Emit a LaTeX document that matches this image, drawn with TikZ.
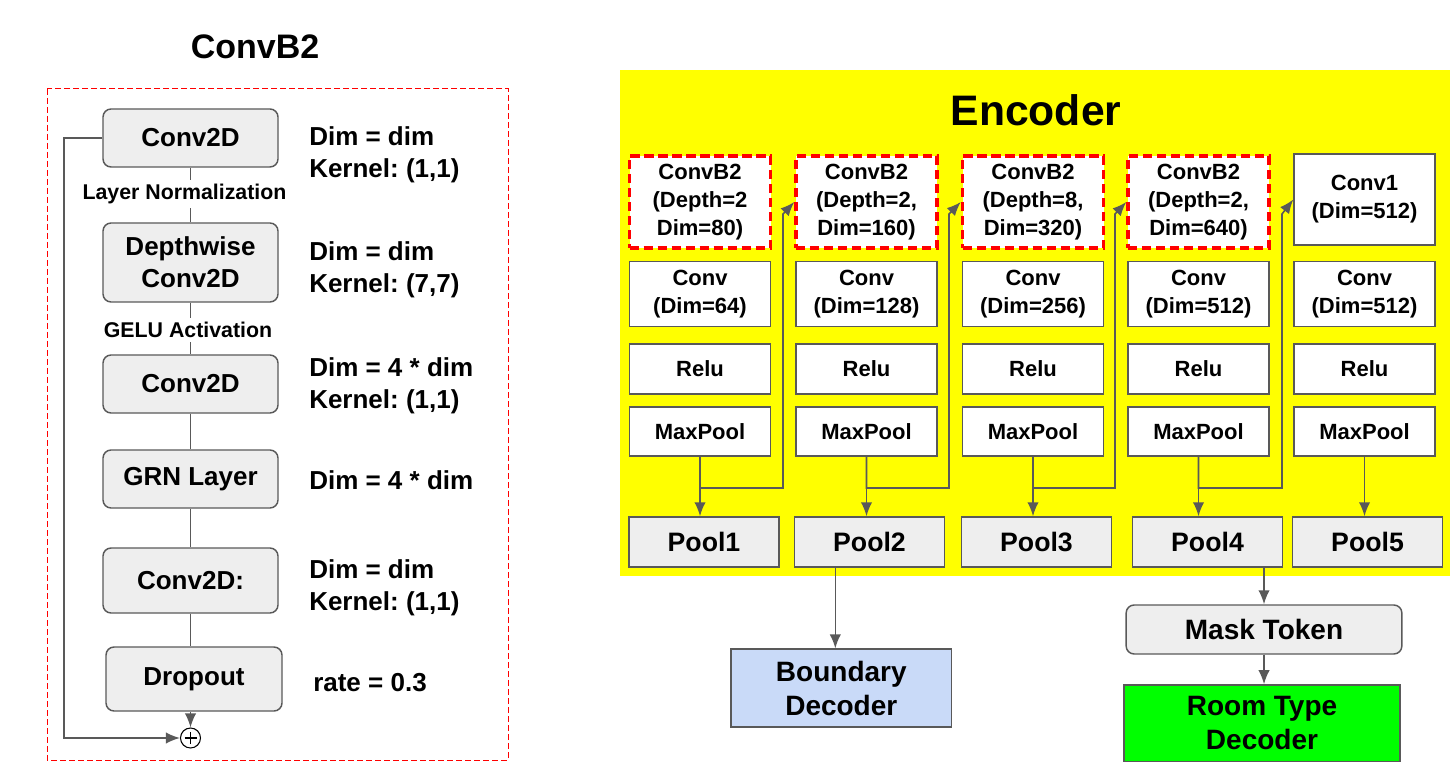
\documentclass[tikz,border=0pt]{standalone}
\usepackage{fontspec}
\setmainfont{Liberation Sans}
\usepackage{xcolor}
\usepackage{tikz}
\usetikzlibrary{arrows.meta}
\definecolor{boxgray}{HTML}{EEEEEE}
\definecolor{linegray}{HTML}{595959}
\definecolor{bdblue}{HTML}{C9DAF8}
\definecolor{rtgreen}{HTML}{00FF00}
\definecolor{encyellow}{HTML}{FFFF00}
\frenchspacing
\tikzset{>={Latex[length=10.5pt,width=8.5pt]}}
\tikzset{
  blk/.style={draw=linegray, fill=boxgray, rounded corners=6pt, line width=1.1pt,
    minimum width=131.25pt, align=center, inner sep=0pt,
    font=\fontsize{19.5}{24}\selectfont\bfseries},
  note/.style={anchor=west, align=left, inner sep=0pt,
    font=\fontsize{19.5}{24}\selectfont\bfseries},
  lbl/.style={inner sep=3pt, font=\fontsize{16}{19}\selectfont\bfseries},
  enc/.style={draw=linegray, fill=white, line width=1.1pt, minimum width=105.75pt,
    align=center, inner sep=0pt, font=\fontsize{16.5}{21}\selectfont\bfseries},
  cbox/.style={enc, draw=red, line width=2.6pt, dash pattern=on 7pt off 3.5pt},
  pool/.style={draw=linegray, fill=boxgray, line width=1.1pt, minimum width=112.5pt,
    minimum height=37.5pt, inner sep=0pt, font=\fontsize{20}{24}\selectfont\bfseries},
  dec/.style={draw=linegray, line width=1.1pt, align=center, inner sep=0pt,
    font=\fontsize{21}{25.5}\selectfont\bfseries},
  link/.style={draw=linegray, line width=1.2pt}
}

\begin{document}
\begin{tikzpicture}[x=0.75pt, y=-0.75pt]
\useasboundingbox (0,0) rectangle (1456,766);

  % ConvB2 block
  \node[font=\fontsize{25.5}{30}\selectfont\bfseries] (title) at (255,47) {ConvB2};
  \draw[red, line width=0.75pt, dash pattern=on 4.5pt off 2.25pt] (47,89) rectangle (508,760);

  \node[blk, minimum height=43.5pt] (c1) at (190.5,138) {Conv2D};
  \node[lbl] (ln) at (184.5,194) {Layer Normalization};
  \node[blk, minimum height=59.25pt] (dw) at (190.5,262.5) {Depthwise\\Conv2D};
  \node[lbl] (ga) at (188,330) {GELU Activation};
  \node[blk, minimum height=43.5pt] (c3) at (190.5,384) {Conv2D};
  \node[blk, minimum height=43.5pt] (grn) at (190.5,479) {GRN Layer};
  \node[blk, minimum height=48.75pt] (c4) at (190.5,580.5) {Conv2D:};
  \node[blk, minimum height=48pt, minimum width=132pt] (dp) at (194,679) {Dropout};
  \node[circle, draw=black, line width=0.8pt, minimum size=15pt, inner sep=0pt,
    path picture={
      \draw[line width=0.8pt] ([xshift=-4.5pt]path picture bounding box.center) -- ([xshift=4.5pt]path picture bounding box.center);
      \draw[line width=0.8pt] ([yshift=-4.5pt]path picture bounding box.center) -- ([yshift=4.5pt]path picture bounding box.center);
    }] (plus) at (190.5,738) {};
  \coordinate (sk) at (64,738);

  \node[note] (n1) at (309,155) {Dim = dim\\Kernel: (1,1)};
  \node[note] (n2) at (309,270) {Dim = dim\\Kernel: (7,7)};
  \node[note] (n3) at (309,386) {Dim = 4 * dim\\Kernel: (1,1)};
  \node[note] (n4) at (309,480) {Dim = 4 * dim};
  \node[note] (n5) at (309,588) {Dim = dim\\Kernel: (1,1)};
  \node[note] (n6) at (313,683) {rate = 0.3};

  \draw[link] (c1) -- (c1 |- ln.north);
  \draw[link] (c1 |- ln.south) -- (dw);
  \draw[link] (dw) -- (dw |- ga.north);
  \draw[link] (dw |- ga.south) -- (c3);
  \draw[link] (c3) -- (grn);
  \draw[link] (grn) -- (c4);
  \draw[link] (c4) -- (c4 |- dp.north);
  \draw[link, ->] (dp.south -| plus) -- (plus);
  \draw[link, ->] (c1.west) -| (sk) -- (plus);

  % Encoder
  \fill[encyellow] (620,70) rectangle (1450,576);
  \node[font=\fontsize{32}{38}\selectfont\bfseries] (enc) at (1036,110) {Encoder};

  \node[cbox, minimum height=69pt] (cb1) at (700,202) {ConvB2\\(Depth=2\\Dim=80)};
  \node[cbox, minimum height=69pt] (cb2) at (866.5,202) {ConvB2\\(Depth=2,\\Dim=160)};
  \node[cbox, minimum height=69pt] (cb3) at (1033,202) {ConvB2\\(Depth=8,\\Dim=320)};
  \node[cbox, minimum height=69pt] (cb4) at (1198.5,202) {ConvB2\\(Depth=2,\\Dim=640)};
  \node[enc, minimum height=68.25pt] (cb5) at (1364.5,199.5) {Conv1\\(Dim=512)};

  \foreach \n/\x/\d in {1/700/64, 2/866.5/128, 3/1033/256, 4/1198.5/512, 5/1364.5/512} {
    \node[enc, minimum height=48.75pt] (cv\n) at (\x,294) {Conv\\(Dim=\d)};
    \node[enc, minimum height=37.5pt] (re\n) at (\x,369) {Relu};
    \node[enc, minimum height=36.75pt] (mp\n) at (\x,431.5) {MaxPool};
  }
  \foreach \n/\x in {1/704, 2/869.5, 3/1036.5, 4/1207.5, 5/1367.5}
    \node[pool] (p\n) at (\x,542) {Pool\n};

  \foreach \n in {1,...,5}
    \draw[link, ->] (mp\n) -- (mp\n |- p\n.north);
  \foreach \n/\m/\bx in {1/2/783, 2/3/949, 3/4/1115, 4/5/1282}
    \draw[link, ->] (mp\n.south) |- (\bx,488) -- (\bx,214) -- (cb\m.west);

  % Decoders
  \node[dec, fill=bdblue, minimum width=165.5pt, minimum height=58.3pt] (bd) at (841.3,688) {Boundary\\Decoder};
  \node[dec, fill=boxgray, rounded corners=6pt, minimum width=206.8pt, minimum height=36.75pt] (mt) at (1264,629.5) {Mask Token};
  \node[dec, fill=rtgreen, minimum width=207pt, minimum height=57.5pt] (rt) at (1262,723.3) {Room Type\\Decoder};

  \draw[link, ->] ([xshift=-4.5pt]bd.north |- p2.south) -- ([xshift=-4.5pt]bd.north);
  \draw[link, ->] (mt.north |- p4.south) -- (mt.north);
  \draw[link, ->] (mt.south) -- (mt.south |- rt.north);
\end{tikzpicture}
\end{document}
